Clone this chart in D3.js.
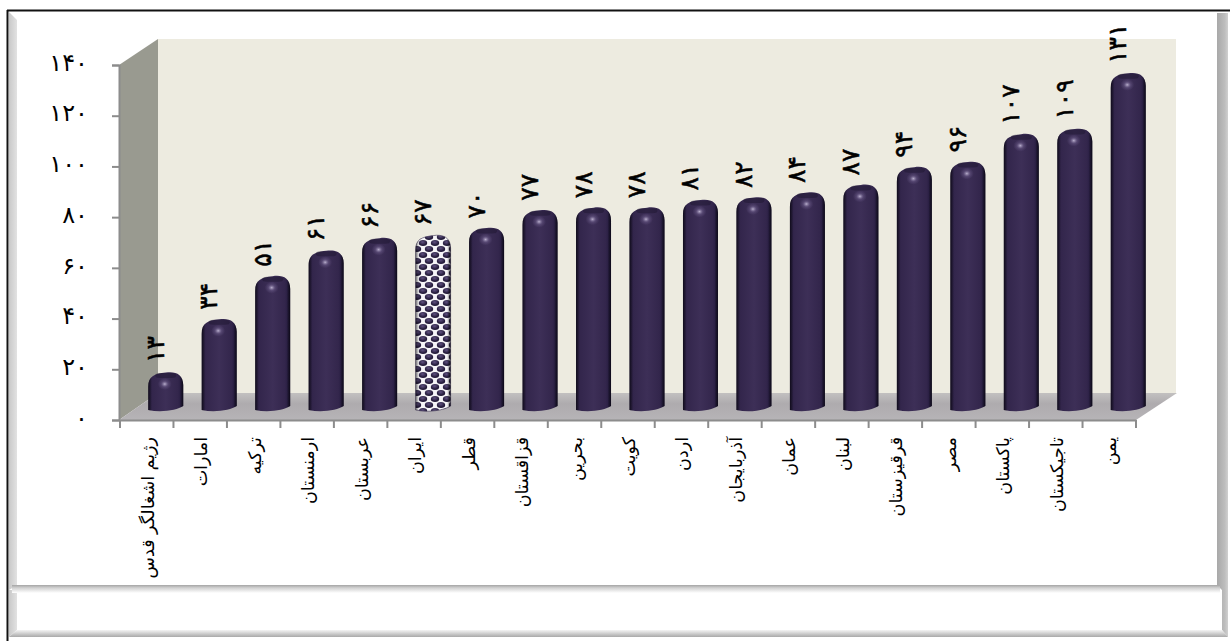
<!DOCTYPE html>
<html>
<head>
<meta charset="utf-8">
<script src="https://cdn.jsdelivr.net/npm/d3@7/dist/d3.min.js"></script>
<style>
  html, body { margin: 0; padding: 0; background: #fff; }
  svg { display: block; }
  text { font-family: "DejaVu Sans", sans-serif; fill: #000; }
</style>
</head>
<body>
<div id="chart"></div>
<script>
const categories = ["رژیم اشغالگر قدس", "امارات", "ترکیه", "ارمنستان", "عربستان", "ایران", "قطر", "قزاقستان", "بحرین", "کویت", "اردن", "آذربایجان", "عمان", "لبنان", "قرقیزستان", "مصر", "پاکستان", "تاجیکستان", "یمن"];
const values = [13, 34, 51, 61, 66, 67, 70, 77, 78, 78, 81, 82, 84, 87, 94, 96, 107, 109, 131];
const yTicks = [0, 20, 40, 60, 80, 100, 120, 140];
const highlighted = "ایران";

const width = 1230, height = 641;
const depthX = 39, depthY = 27;
const barOffsetX = 19, barOffsetY = 15, barWidth = 35;

function fa(n) {
    return String(n).replace(/\d/g, function (c) { return "۰۱۲۳۴۵۶۷۸۹"[+c]; });
}

const svg = d3.select("#chart").append("svg")
    .attr("width", width)
    .attr("height", height);

const defs = svg.append("defs");

function linear(id, x2, y2, stops) {
    const g = defs.append("linearGradient").attr("id", id)
        .attr("x1", 0).attr("y1", 0).attr("x2", x2).attr("y2", y2);
    stops.forEach(function (s) {
        g.append("stop").attr("offset", s[0]).attr("stop-color", s[1]).attr("stop-opacity", s[2] === undefined ? 1 : s[2]);
    });
}

linear("bar-body", 1, 0, [[0, "#251b3c"], [0.12, "#33264c"], [0.5, "#3d2f57"], [0.85, "#33264c"], [1, "#20183a"]]);
linear("bar-edge", 1, 0, [[0, "#000", 0.55], [0.1, "#000", 0], [0.9, "#000", 0], [1, "#000", 0.6]]);
linear("floor", 0, 1, [[0, "#c2c0c0"], [0.4, "#aeabae"], [1, "#b6b4b7"]]);
linear("band-left", 1, 0, [[0, "#c9c9c9"], [1, "#e2e2e2"]]);
linear("band-right", 1, 0, [[0, "#a8a8a8"], [0.7, "#bdbdbd"], [1, "#d0d0d0"]]);
linear("band-bottom", 0, 1, [[0, "#f4f4f4"], [1, "#a9a9a9"]]);
linear("band-shadow", 0, 1, [[0, "#a4a4a4"], [0.35, "#d0d0d0"], [1, "#fff"]]);

const glow = defs.append("radialGradient").attr("id", "bar-glow");
glow.append("stop").attr("offset", 0).attr("stop-color", "#c9bfdc").attr("stop-opacity", 0.9);
glow.append("stop").attr("offset", 0.5).attr("stop-color", "#7a6a98").attr("stop-opacity", 0.4);
glow.append("stop").attr("offset", 1).attr("stop-color", "#6d5c8c").attr("stop-opacity", 0);

const ball = defs.append("radialGradient").attr("id", "ball").attr("cx", 0.45).attr("cy", 0.35);
ball.append("stop").attr("offset", 0).attr("stop-color", "#5f5180");
ball.append("stop").attr("offset", 1).attr("stop-color", "#241b3a");

const pattern = defs.append("pattern").attr("id", "bar-dots")
    .attr("patternUnits", "userSpaceOnUse").attr("width", 12).attr("height", 12);
pattern.append("rect").attr("width", 12).attr("height", 12).attr("fill", "#f6f5f8");
[[3, 3], [9, 9], [-3, 9], [15, 3]].forEach(function (p) {
    pattern.append("ellipse").attr("cx", p[0]).attr("cy", p[1]).attr("rx", 4.2).attr("ry", 3).attr("fill", "url(#ball)");
});

// frame
const frame = svg.append("g");
frame.append("rect").attr("x", 9).attr("y", 12).attr("width", 1219).attr("height", 625).attr("fill", "#fff");
frame.append("path").attr("d", "M9,12 L17,20 L17,585 L9,590 Z").attr("fill", "url(#band-left)");
frame.append("path").attr("d", "M9,590 L17,590 L17,630 L9,637 Z").attr("fill", "url(#band-left)");
frame.append("path").attr("d", "M1217,13 L1228,13 L1228,637 L1222,630 L1222,590 L1217,585 Z").attr("fill", "url(#band-right)");
frame.append("path").attr("d", "M9,637 L17,630 L1222,630 L1228,637 Z").attr("fill", "url(#band-bottom)");
frame.append("rect").attr("x", 12).attr("y", 585).attr("width", 1208).attr("height", 8).attr("fill", "url(#band-shadow)");
frame.append("line").attr("x1", 7).attr("x2", 1230).attr("y1", 10.5).attr("y2", 10.5).attr("stroke", "#111").attr("stroke-width", 2);
frame.append("line").attr("x1", 7.5).attr("x2", 7.5).attr("y1", 10).attr("y2", 641).attr("stroke", "#111").attr("stroke-width", 2);

const yScale = d3.scaleLinear().domain([0, 140]).range([420, 65]);
const xScale = d3.scaleBand().domain(categories).range([120, 1136]);

const y0 = yScale(0), yTop = yScale(140);
const xLeft = xScale.range()[0], xRight = xScale.range()[1];

// walls and floor
const room = svg.append("g");
room.append("rect")
    .attr("x", xLeft + depthX - 1).attr("y", yTop - depthY + 1)
    .attr("width", xRight - xLeft + 2).attr("height", y0 - yTop)
    .attr("fill", "#edebe0");
room.append("path")
    .attr("d", d3.line()([[xLeft - 1, yTop], [xLeft + depthX - 1, yTop - depthY + 1], [xLeft + depthX - 1, y0 - depthY], [xLeft - 1, y0]]))
    .attr("fill", "#999a90");
room.append("path")
    .attr("d", d3.line()([[xLeft - 1, y0], [xRight, y0], [xRight + depthX + 2, y0 - depthY], [xLeft + depthX - 1, y0 - depthY]]))
    .attr("fill", "url(#floor)");

// axes
const yAxis = svg.append("g").attr("class", "y-axis")
    .attr("transform", "translate(119,0)")
    .call(d3.axisLeft(yScale).tickValues(yTicks).tickSize(7).tickPadding(24).tickFormat(fa));
yAxis.selectAll("text").attr("dy", "0.22em").style("font-size", "24px");

const xAxis = svg.append("g").attr("class", "x-axis")
    .attr("transform", "translate(0," + y0 + ")")
    .call(d3.axisBottom(xScale).tickSize(0).tickFormat(""));
xAxis.selectAll(".tick").remove();
xAxis.selectAll("line.edge-tick")
    .data(categories.map(function (d) { return xScale(d); }).concat([xRight]))
    .enter().append("line")
    .attr("class", "edge-tick")
    .attr("x1", function (d) { return d; }).attr("x2", function (d) { return d; })
    .attr("y1", 0).attr("y2", 8);

svg.selectAll(".y-axis path, .y-axis line, .x-axis path, .x-axis line")
    .attr("stroke", "#8c8c8c").attr("stroke-width", 2);

xAxis.selectAll("text.cat")
    .data(categories)
    .enter().append("text")
    .attr("class", "cat")
    .attr("direction", "rtl")
    .attr("text-anchor", "start")
    .attr("transform", function (d) {
        return "translate(" + (xScale(d) + xScale.bandwidth() / 2 + 7) + ",17) rotate(-90)";
    })
    .style("font-size", "17.5px")
    .text(function (d) { return d; });

// bars
function barPath(d) {
    const cx = xScale(d.cat) + xScale.bandwidth() / 2 + barOffsetX;
    const x0 = cx - barWidth / 2, x1 = cx + barWidth / 2;
    const t = yScale(d.val) - barOffsetY;
    const b = y0 - barOffsetY;
    const r = Math.min(13, (b - t) / 2);
    return "M" + x0 + "," + (b + 5)
        + " L" + x0 + "," + (t + r + 2)
        + " C" + x0 + "," + (t + 4) + " " + (x0 + 6) + "," + (t + 2) + " " + cx + "," + (t + 0.5)
        + " C" + (x1 - 8) + "," + (t - 1) + " " + x1 + "," + (t + 2) + " " + x1 + "," + (t + r)
        + " L" + x1 + "," + (b + 1)
        + " C" + (x1 - 6) + "," + (b + 5) + " " + (cx - 4) + "," + (b + 8) + " " + x0 + "," + (b + 5) + " Z";
}

const data = categories.map(function (c, i) { return { cat: c, val: values[i] }; });

const bars = svg.selectAll("g.bar").data(data).enter().append("g").attr("class", "bar");

bars.append("path")
    .attr("d", barPath)
    .attr("fill", function (d) { return d.cat === highlighted ? "url(#bar-dots)" : "url(#bar-body)"; })
    .attr("stroke", function (d) { return d.cat === highlighted ? "#3a3050" : "none"; })
    .attr("stroke-width", 0.6);

bars.append("path")
    .attr("d", barPath)
    .attr("fill", "url(#bar-edge)");

bars.filter(function (d) { return d.cat !== highlighted; })
    .append("rect")
    .attr("x", function (d) { return xScale(d.cat) + xScale.bandwidth() / 2 + barOffsetX - barWidth / 2 + 7; })
    .attr("y", function (d) { return yScale(d.val) - barOffsetY + 1; })
    .attr("width", barWidth - 14)
    .attr("height", 5)
    .attr("rx", 5)
    .attr("fill", "#1d1530")
    .attr("opacity", 0.5);

bars.filter(function (d) { return d.cat !== highlighted; })
    .append("ellipse")
    .attr("cx", function (d) { return xScale(d.cat) + xScale.bandwidth() / 2 + barOffsetX - 1; })
    .attr("cy", function (d) { return yScale(d.val) - barOffsetY + 12; })
    .attr("rx", 7)
    .attr("ry", 6)
    .attr("fill", "url(#bar-glow)");

// value labels
svg.selectAll("text.value").data(data).enter().append("text")
    .attr("class", "value")
    .attr("text-anchor", "start")
    .attr("transform", function (d) {
        return "translate(" + (xScale(d.cat) + xScale.bandwidth() / 2 + barOffsetX - 2) + "," + (yScale(d.val) - barOffsetY - 9) + ") rotate(-90)";
    })
    .style("font-size", "25px")
    .style("stroke", "#000")
    .style("stroke-width", 0.5)
    .text(function (d) { return fa(d.val); });
</script>
</body>
</html>
